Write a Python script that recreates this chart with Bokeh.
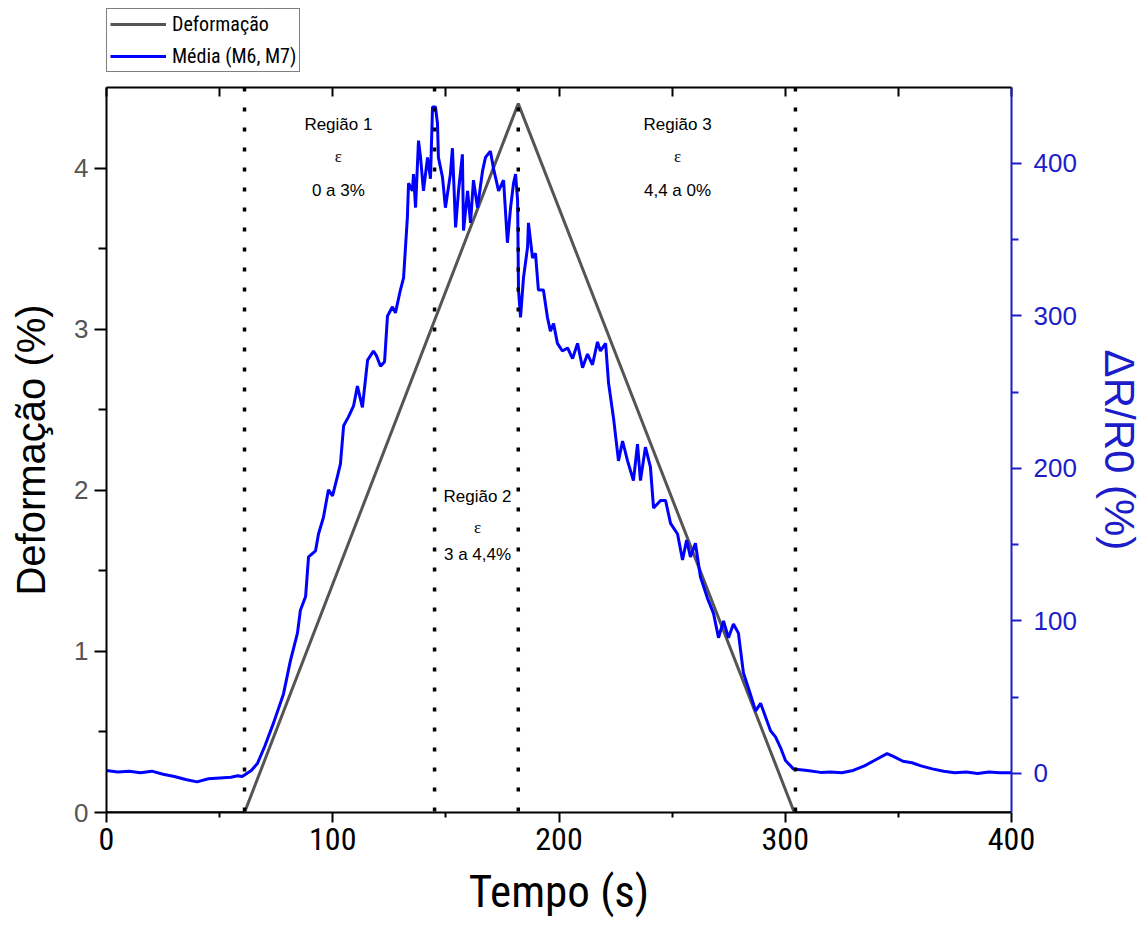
from bokeh.plotting import figure
from bokeh.layouts import column
from bokeh.models import Range1d, LinearAxis, FixedTicker, Legend, LegendItem, Span
from bokeh.embed import file_html
from bokeh.resources import INLINE
from bokeh.core.properties import value

# ---------------- data ----------------
t_deform = [0, 61, 182, 304, 400]
deform = [0, 0, 4.4, 0, 0]

t_media = [0, 5, 10, 15, 20, 25, 30, 35, 40, 45,
           50, 55, 58, 60, 62, 64, 66.7, 70, 73.8, 78.2,
           81.3, 84.4, 85.7, 88.0, 89.3, 92.4, 93.7, 95.9, 98.1, 99.9,
           102.1, 103.4, 104.8, 107.0, 109.2, 110.9, 113.1, 115.4, 118.0, 119.3,
           121.1, 122.9, 124.2, 126.4, 127.7, 129.9, 131.3, 133.0, 133.5, 135.2,
           135.7, 136.6, 137.9, 138.8, 140.1, 141.9, 143.2, 144.1, 145.4, 146.3,
           146.7, 148.5, 149.8, 152.0, 152.9, 154.3, 155.6, 157.3, 157.8, 159.6,
           160.9, 162.2, 164.0, 166.2, 167.5, 169.7, 171.0, 173.3, 175.5, 177.2,
           178.6, 179.9, 180.8, 181.7, 182.1, 183.0, 184.3, 186.1, 186.5, 188.3,
           189.6, 190.9, 193.1, 194.9, 196.2, 197.6, 199.3, 201.5, 203.8, 206.0,
           208.2, 210.4, 212.6, 214.8, 217.0, 218.3, 220.6, 221.9, 224.1, 226.3,
           228.1, 230.3, 232.9, 234.7, 236.0, 238.2, 240.4, 241.8, 244.9, 247.1,
           249.3, 252.4, 254.6, 256.4, 258.1, 260.3, 262.5, 265.6, 268.3, 270.5,
           272.7, 274.9, 277.1, 279.3, 281.5, 284.6, 286.9, 289.1, 291.3, 293.5,
           295.7, 297.9, 300.1, 303.6, 309.8, 315.6, 320, 325, 330, 335,
           340, 345, 348, 352, 356, 360, 365, 370, 375, 380,
           385, 390, 395, 400]
media = [2, 1, 1.5, 0.5, 1.5, -0.5, -2, -4, -5.5, -3.5,
         -3, -2.5, -1.5, -2, 0, 2, 6.5, 18, 33, 52,
         74, 92, 107, 116, 142, 146, 157, 168, 186, 182,
         195, 203, 228, 234, 241, 254, 240, 271, 277, 274,
         267, 270, 300, 306, 302, 317, 325, 365, 387, 382,
         393, 371, 415, 404, 382, 404, 390, 437, 437, 426,
         404, 391, 371, 393, 410, 358, 382, 406, 356, 382,
         361, 389, 371, 395, 404, 408, 397, 382, 389, 348,
         371, 387, 393, 376, 317, 299, 325, 345, 361, 338,
         341, 317, 317, 299, 290, 295, 282, 277, 279, 272,
         282, 266, 275, 268, 283, 277, 282, 256, 233, 205,
         218, 205, 192, 216, 192, 214, 201, 174, 179, 179,
         164, 157, 140, 153, 142, 151, 129, 115, 105, 89,
         100, 89, 98, 92, 66, 52, 41, 46, 37, 28,
         24, 17, 8.5, 3, 2, 0.7, 1, 0.5, 2, 5,
         9, 13, 11, 8, 7, 5, 3, 1.5, 0.5, 1,
         0, 1, 0.5, 0.5]

region_bounds = [61, 145, 182, 304.5]

reg_x = [102.5, 102.5, 164, 164, 252.4, 252.4]
reg_y = [4.27, 3.86, 1.96, 1.60, 4.27, 3.86]
reg_text = ["Região 1", "0 a 3%", "Região 2", "3 a 4,4%", "Região 3", "4,4 a 0%"]
eps_x = [102.5, 164, 252.4]
eps_y = [4.07, 1.77, 4.07]
eps_text = ["ε", "ε", "ε"]

series_names = ["Deformação", "Média (M6, M7)"]

x_ticks = [0, 100, 200, 300, 400]
x_minor = [50, 150, 250, 350]
x_top_marks = [0, 50, 100, 150, 200, 250, 300, 350, 400]
yl_ticks = [0, 1, 2, 3, 4]
yl_minor = [0.5, 1.5, 2.5, 3.5]
yr_ticks = [0, 100, 200, 300, 400]
yr_minor = [50, 150, 250, 350]

# ---------------- styles ----------------
NARROW = "Liberation Sans Narrow, Arial Narrow, Roboto Condensed, Liberation Sans, sans-serif"
SANS = "Liberation Sans, Arial, sans-serif"
BLUE = "#0000FF"
BLUE_AX = "#1c1cc8"
GRAY = "#555555"

# ---------- legend strip (top) ----------
# the series are drawn here too, but outside the visible ranges: only the legend shows
leg = figure(width=1141, height=80, min_border_left=105, min_border_top=8,
             min_border_right=0, min_border_bottom=0,
             output_backend="svg", toolbar_location=None,
             x_axis_location=None, y_axis_location=None,
             x_range=Range1d(1000, 1001), y_range=Range1d(1000, 1001))
leg.xgrid.visible = False
leg.ygrid.visible = False
leg.outline_line_color = None
lr_def = leg.line(t_deform, deform, line_color=GRAY, line_width=3)
lr_med = leg.line(t_media, media, line_color=BLUE, line_width=3)
legend = Legend(items=[LegendItem(label=series_names[0], renderers=[lr_def]),
                       LegendItem(label=series_names[1], renderers=[lr_med])],
                location="top_left", orientation="vertical",
                glyph_width=56, glyph_height=24, label_height=24, spacing=8,
                padding=3, margin=0, label_standoff=6,
                label_text_font=NARROW, label_text_font_size="20px",
                label_text_color="black",
                border_line_color="black", border_line_width=1.2,
                background_fill_color="white", background_fill_alpha=1)
leg.add_layout(legend, "center")

# ---------- main plot ----------
p = figure(frame_width=905, frame_height=725,
           min_border_left=106, min_border_right=130, min_border_top=7, min_border_bottom=124,
           x_range=Range1d(0, 400), y_range=Range1d(0, 4.5),
           output_backend="svg", toolbar_location=None,
           x_axis_location=None, y_axis_location=None)
p.extra_y_ranges = {"right": Range1d(-25.6, 449.8)}
p.xgrid.visible = False
p.ygrid.visible = False
p.outline_line_color = None

xb = LinearAxis(ticker=FixedTicker(ticks=x_ticks, minor_ticks=x_minor), axis_label="Tempo (s)")
yl = LinearAxis(ticker=FixedTicker(ticks=yl_ticks, minor_ticks=yl_minor), axis_label="Deformação (%)")
yr = LinearAxis(y_range_name="right", ticker=FixedTicker(ticks=yr_ticks, minor_ticks=yr_minor),
                axis_label="ΔR/R0 (%)")
xt = LinearAxis(ticker=FixedTicker(ticks=[], minor_ticks=x_top_marks))

for ax in (xb, yl, yr, xt):
    ax.axis_line_width = 2
    ax.major_tick_line_width = 2
    ax.minor_tick_line_width = 2
    ax.major_tick_out = 10
    ax.major_tick_in = 0
    ax.minor_tick_out = 5
    ax.minor_tick_in = 0
    ax.axis_label_text_font_style = "normal"
    ax.axis_label_text_color = "black"

xb.major_label_text_font = NARROW
xb.major_label_text_font_size = "32px"
xb.major_label_text_color = "black"
xb.major_label_standoff = 5
xb.axis_label_text_font = NARROW
xb.axis_label_text_font_size = "45px"
xb.axis_label_standoff = 12

yl.major_tick_out = 12
yl.minor_tick_out = 8
yl.major_label_text_font = SANS
yl.major_label_text_font_size = "26px"
yl.major_label_text_color = GRAY
yl.major_label_standoff = 6
yl.axis_label_text_font = SANS
yl.axis_label_text_font_size = "40px"
yl.axis_label_standoff = 18

for attr in ("axis_line_color", "major_tick_line_color", "minor_tick_line_color",
             "major_label_text_color", "axis_label_text_color"):
    setattr(yr, attr, BLUE_AX)
yr.minor_tick_out = 7
yr.major_label_text_font = SANS
yr.major_label_text_font_size = "26px"
yr.major_label_standoff = 12
yr.axis_label_text_font = SANS
yr.axis_label_text_font_size = "42px"
yr.axis_label_standoff = 16

xt.minor_tick_out = 0
xt.minor_tick_in = 9

p.add_layout(xb, "below")
p.add_layout(yl, "left")
p.add_layout(yr, "right")
p.add_layout(xt, "above")

r_def = p.line(t_deform, deform, line_color=GRAY, line_width=3)
r_med = p.line(t_media, media, line_color=BLUE, line_width=3, y_range_name="right")

for xb_ in region_bounds:
    p.add_layout(Span(location=xb_, dimension="height", line_color="black",
                      line_width=3.5, line_dash="4 16"))

p.text(reg_x, reg_y, text=reg_text, text_font=value(SANS), text_font_size="17px",
       text_align="center", text_baseline="middle", text_color="black")
p.text(eps_x, eps_y, text=eps_text, text_font=value("Liberation Serif, serif"),
       text_font_size="17px", text_align="center", text_baseline="middle", text_color="black")

layout = column(leg, p, spacing=0)
open("out.html", "w").write(file_html(layout, INLINE))
